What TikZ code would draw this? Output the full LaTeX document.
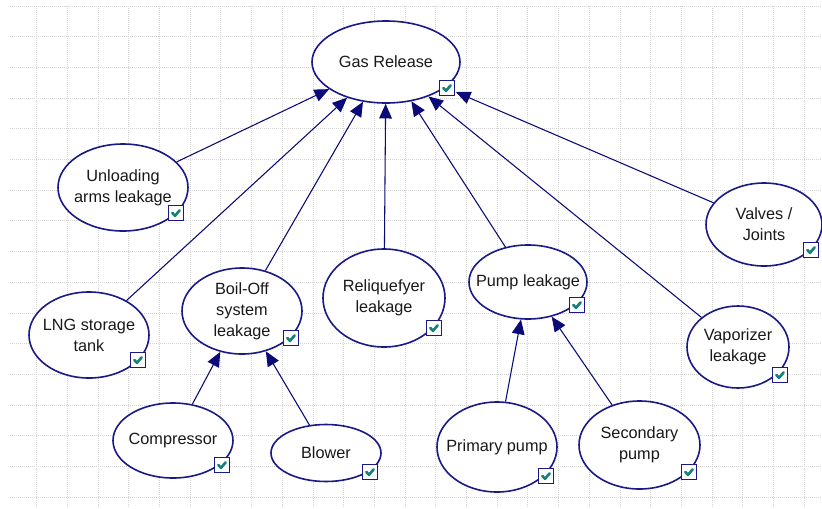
\documentclass[tikz,border=0pt]{standalone}
\usepackage{fontspec}
\setmainfont{Liberation Sans}
\usetikzlibrary{shapes.geometric,arrows.meta}
\definecolor{nav}{RGB}{25,25,135}
\definecolor{navline}{RGB}{10,10,120}
\definecolor{gridc}{RGB}{212,212,212}
\definecolor{tick}{RGB}{20,130,120}
\tikzset{
 ell/.style={ellipse, draw=nav, line width=1.2pt, fill=white, inner sep=0pt},
 txt/.style={align=center, font=\fontsize{12.2}{15.75}\selectfont, text=black!90, inner sep=0pt},
 arr/.style={draw=navline, line width=0.8pt, -{Triangle[length=11pt,width=9.5pt]}},
 gridline/.style={draw=gridc, line width=0.75pt, dash pattern=on 0.75pt off 0.75pt},
 chkbox/.style={draw=nav, line width=1.1pt, fill=white, minimum size=11pt, inner sep=0pt},
 chk/.pic={\node[chkbox] {}; \draw[tick, line width=2pt, line cap=round, line join=round] (-3.6,0) -- (-1,2.8) -- (3.6,-2.6);}
}
\newcommand\mkell[6]{\node[ell, minimum width=#4*1.5pt, minimum height=#5*1.5pt] (#1) at (#2,#3) {};
 \node[txt] at (#1.center) {#6};}
\begin{document}
\begin{tikzpicture}[x=0.75pt,y=-0.75pt]
\fill[white] (0,0) rectangle (822,508);
\useasboundingbox (0,0) rectangle (822,508);
% grid
\foreach \k in {1,...,26} \draw[gridline] ({6+30.7*\k},6) -- ({6+30.7*\k},508);
\foreach \k in {0,...,16} \draw[gridline] (10,{6+30.7*\k}) -- (822,{6+30.7*\k});
% nodes
\mkell{gas}{386}{62}{74}{41}{Gas Release}
\mkell{unl}{123}{187.5}{65}{43.5}{Unloading\\arms leakage}
\mkell{lng}{89}{335}{60}{43}{LNG storage\\tank}
\mkell{boil}{242}{311}{60}{43}{Boil-Off\\system\\leakage}
\mkell{rel}{384}{298}{61}{49}{Reliquefyer\\leakage}
\mkell{pump}{528}{282}{59}{37}{Pump leakage}
\mkell{vap}{738}{347}{51}{41}{Vaporizer\\leakage}
\mkell{valv}{764}{224.5}{58}{41.5}{Valves /\\Joints}
\mkell{comp}{173}{440.5}{60}{37.5}{Compressor}
\mkell{blow}{326}{453}{55}{28.5}{Blower}
\mkell{prim}{497}{447}{60}{45}{Primary pump}
\mkell{sec}{639.5}{445}{60.5}{44}{Secondary\\pump}
% connectors
\draw[arr] (unl) -- (gas);
\draw[arr] (lng) -- (gas);
\draw[arr] (boil) -- (gas);
\draw[arr] (rel) -- (gas);
\draw[arr] (pump) -- (gas);
\draw[arr] (vap) -- (gas);
\draw[arr, shorten >=8.6pt] (valv) -- (gas);
\draw[arr] (comp) -- (boil);
\draw[arr] (blow) -- (boil);
\draw[arr] (prim) -- (pump);
\draw[arr] (sec) -- (pump);
% check boxes
\pic at (447,88) {chk};
\pic at (176,213) {chk};
\pic at (138,360) {chk};
\pic at (291,338) {chk};
\pic at (434,328) {chk};
\pic at (577,305) {chk};
\pic at (780,375) {chk};
\pic at (811,250) {chk};
\pic at (222,465) {chk};
\pic at (370,472) {chk};
\pic at (546,476) {chk};
\pic at (689,472) {chk};
\end{tikzpicture}
\end{document}
